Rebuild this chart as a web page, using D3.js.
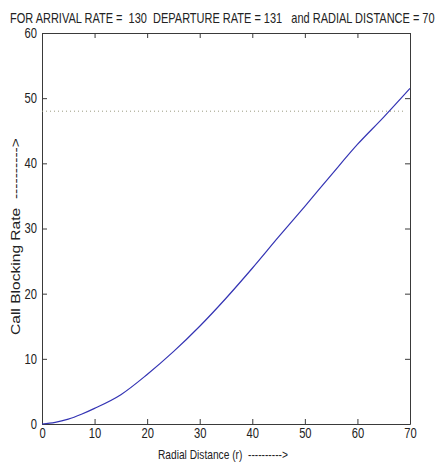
<!DOCTYPE html>
<html>
<head>
<meta charset="utf-8">
<script src="https://cdn.jsdelivr.net/npm/d3@7"></script>
<style>
  body { margin: 0; background: #fff; }
  text { font-family: "Liberation Sans", Arial, sans-serif; fill: #222; white-space: pre; }
</style>
</head>
<body>
<div id="chart"></div>
<script>
// values
var radialDistance = [0, 2.5, 5, 7.5, 10, 15, 20, 25, 30, 35, 40, 45, 50, 55, 60, 65, 70];
var blockingRate   = [0, 0.25, 0.75, 1.5, 2.4, 4.5, 7.6, 11.1, 15.0, 19.3, 23.9, 28.7, 33.4, 38.2, 42.9, 47.1, 51.5];
var thresholdLevel = 48;
var thresholdSpan  = [0, 69];
var xTicks = [0, 10, 20, 30, 40, 50, 60, 70];
var yTicks = [0, 10, 20, 30, 40, 50, 60];

var width = 440, height = 465;
var margin = { top: 33, right: 30, bottom: 41, left: 42 };
var w = width - margin.left - margin.right,
    h = height - margin.top - margin.bottom;

var svg = d3.select("#chart").append("svg")
    .attr("width", width)
    .attr("height", height);

var g = svg.append("g")
    .attr("transform", "translate(" + margin.left + "," + margin.top + ")");

var x = d3.scaleLinear().domain([0, 70]).range([0, w]);
var y = d3.scaleLinear().domain([0, 60]).range([h, 0]);

// squeeze text to look like the narrow windows font
function narrow(sel, k) {
  sel.each(function() {
    var len = this.getComputedTextLength();
    d3.select(this).attr("textLength", len * k).attr("lengthAdjust", "spacingAndGlyphs");
  });
}

// box with inward ticks on all sides (matlab style)
function styleAxis(sel) {
  sel.selectAll(".domain").attr("stroke", "#3a3a3a");
  sel.selectAll(".tick line").attr("stroke", "#3a3a3a");
  sel.selectAll(".tick text")
    .style("font-size", "14px")
    .style("font-family", "\"Liberation Sans\", Arial, sans-serif")
    .attr("fill", "#222")
    .call(narrow, 0.8);
}

g.append("g")
  .attr("transform", "translate(0," + h + ")")
  .call(d3.axisBottom(x).tickValues(xTicks).tickSizeInner(-5).tickSizeOuter(0).tickPadding(4))
  .call(styleAxis);

g.append("g")
  .call(d3.axisTop(x).tickValues(xTicks).tickSizeInner(-5).tickSizeOuter(0).tickFormat(""))
  .call(styleAxis);

g.append("g")
  .call(d3.axisLeft(y).tickValues(yTicks).tickSizeInner(-5).tickSizeOuter(0).tickPadding(5))
  .call(styleAxis);

g.append("g")
  .attr("transform", "translate(" + w + ",0)")
  .call(d3.axisRight(y).tickValues(yTicks).tickSizeInner(-5).tickSizeOuter(0).tickFormat(""))
  .call(styleAxis);

// dotted reference level
g.append("line")
  .attr("x1", x(thresholdSpan[0]))
  .attr("x2", x(thresholdSpan[1]))
  .attr("y1", y(thresholdLevel))
  .attr("y2", y(thresholdLevel))
  .attr("stroke", "#9a9a80")
  .attr("stroke-width", 1)
  .attr("stroke-dasharray", "1,3");

// the curve
var line = d3.line()
  .x(function(d, i) { return x(radialDistance[i]); })
  .y(function(d) { return y(d); })
  .curve(d3.curveMonotoneX);

g.append("path")
  .datum(blockingRate)
  .attr("d", line)
  .attr("fill", "none")
  .attr("stroke", "#3434b4")
  .attr("stroke-width", 1.2);

// scale a text along its direction so it spans the wanted length
function squeezeTo(sel, x0, y0, target, rot) {
  var len = sel.node().getComputedTextLength();
  sel.attr("transform", "translate(" + x0 + "," + y0 + ")" + (rot ? " rotate(" + rot + ")" : "") +
    " scale(" + (target / len) + ",1)");
}

// title
svg.append("text")
  .attr("xml:space", "preserve")
  .style("font-size", "14px")
  .text("FOR ARRIVAL RATE =  130  DEPARTURE RATE = 131   and RADIAL DISTANCE = 70")
  .call(squeezeTo, 10, 23, 425);

// x label
svg.append("text")
  .attr("xml:space", "preserve")
  .style("font-size", "13px")
  .text("Radial Distance (r)  ---------->")
  .call(squeezeTo, 158, 459, 130);

// y label
svg.append("text")
  .attr("xml:space", "preserve")
  .style("font-size", "13px")
  .text("Call Blocking Rate  ---------->")
  .call(squeezeTo, 19.5, 335, 197, -90);
</script>
</body>
</html>
